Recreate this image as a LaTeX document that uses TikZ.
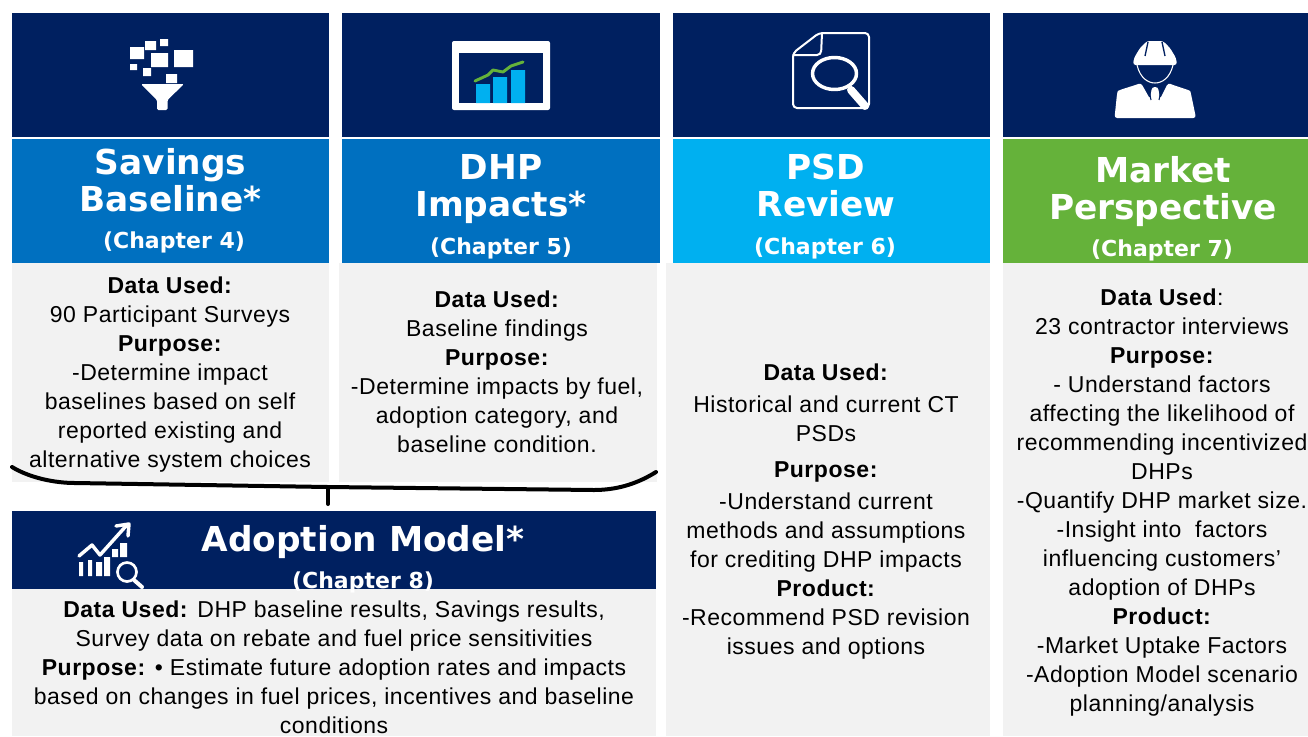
\documentclass[tikz,border=0pt]{standalone}
\usepackage{fontspec}
\usepackage{xcolor}
\usepackage{tikz}
\usetikzlibrary{positioning,calc}
\setmainfont[LetterSpace=2.3]{Liberation Sans}
\newfontfamily\titlefont{DejaVu Sans}
\definecolor{headnavy}{HTML}{002060}
\definecolor{bandblue}{HTML}{0070C0}
\definecolor{bandcyan}{HTML}{00B0F0}
\definecolor{bandgreen}{HTML}{65B23A}
\definecolor{panelgray}{HTML}{F2F2F2}

\begin{document}
\begin{tikzpicture}[
    x=0.75pt, y=-0.75pt,
    head/.style={rectangle, fill=headnavy, inner sep=0pt, minimum width=237.75pt, minimum height=93pt},
    band/.style={rectangle, fill=#1, inner sep=0pt, minimum width=237.75pt, minimum height=93pt},
    panel/.style={rectangle, fill=panelgray, inner sep=0pt},
    title/.style={text=white, align=center, inner sep=0pt, font=\titlefont\fontsize{25.75}{27.75}\selectfont\bfseries},
    chapter/.style={text=white, inner sep=0pt, font=\titlefont\fontsize{16.5}{18}\selectfont\bfseries},
    body/.style={align=center, inner sep=0pt, text=black, font=\fontsize{17.25}{21.75}\selectfont},
    brace/.style={line width=3pt, line cap=round, black},
    iconline/.style={white, line join=round, line cap=round}
]
\useasboundingbox (0,0) rectangle (1308,736);

% Grey panels
\node[panel, minimum width=237.75pt, minimum height=164.25pt] (basepanel) at (170.5,372.5) {};
\node[panel, minimum width=238.5pt, minimum height=164.25pt] (impactpanel) at (498,372.5) {};
\node[panel, minimum width=243pt, minimum height=354.75pt] (psdpanel) at (828,499.5) {};
\node[panel, minimum width=228.75pt, minimum height=354.75pt] (marketpanel) at (1155.5,499.5) {};
\node[panel, minimum width=483pt, minimum height=110.25pt] (modelpanel) at (334,662.5) {};

% Icon row
\node[head] (basehead) at (170.5,75) {};
\node[head, minimum width=238.5pt] (impacthead) at (501,75) {};
\node[head] (psdhead) at (831.5,75) {};
\node[head, minimum width=228.75pt] (markethead) at (1155.5,75) {};

% Title row
\node[band=bandblue] (baseband) at (170.5,201) {};
\node[band=bandblue, minimum width=238.5pt] (impactband) at (501,201) {};
\node[band=bandcyan] (psdband) at (831.5,201) {};
\node[band=bandgreen, minimum width=228.75pt] (marketband) at (1155.5,201) {};
\node[title] (basetitle) at (170.5,180.5) {Savings\\Baseline*};
\node[title] (impacttitle) at (501,189.5) {DHP\\Impacts*};
\node[title] (psdtitle) at (826,185.5) {PSD\\Review};
\node[title] (markettitle) at (1163,191.5) {Market\\Perspective};
\node[chapter] (basechap) at (174,242) {(Chapter 4)};
\node[chapter] (impactchap) at (501,248) {(Chapter 5)};
\node[chapter] (psdchap) at (825,248) {(Chapter 6)};
\node[chapter] (marketchap) at (1162,250) {(Chapter 7)};

% Panel text
\node[body] (basetext) at (170,375) {\textbf{Data Used:}\\90 Participant Surveys\\\textbf{Purpose:}\\-Determine impact\\baselines based on self\\reported existing and\\alternative system choices};
\node[body] (impacttext) at (497,372) {\textbf{Data Used:}\\Baseline findings\\\textbf{Purpose:}\\-Determine impacts by fuel,\\adoption category, and\\baseline condition.};
\node[body] (psdtext) at (826,511.5) {\textbf{Data Used:}\\[2.25pt]Historical and current CT\\PSDs\\[5.25pt]\textbf{Purpose:}\\[2.25pt]-Understand current\\methods and assumptions\\for crediting DHP impacts\\\textbf{Product:}\\-Recommend PSD revision\\issues and options};
\node[body] (markettext) at (1162,502.5) {\textbf{Data Used}:\\23 contractor interviews\\\textbf{Purpose:}\\- Understand factors\\affecting the likelihood of\\recommending incentivized\\DHPs\\-Quantify DHP market size.\\-Insight into\ \ factors\\influencing customers'\\adoption of DHPs\\\textbf{Product:}\\-Market Uptake Factors\\-Adoption Model scenario\\planning/analysis};

% Adoption model
\node[rectangle, fill=headnavy, inner sep=0pt, minimum width=483pt, minimum height=58.5pt] (modelhead) at (334,550) {};
\node[title] (modeltitle) at (363,542) {Adoption Model*};
\node[chapter] (modelchap) at (363,582) {(Chapter 8)};
\node[body] (modeltext) at (334,667) {\textbf{Data Used:} DHP baseline results, Savings results,\\Survey data on rebate and fuel price sensitivities\\\textbf{Purpose:} • Estimate future adoption rates and impacts\\based on changes in fuel prices, incentives and baseline\\conditions};

% Brace
\coordinate (braceleft) at (12,467);
\coordinate (bracemid) at (328,487);
\coordinate (braceright) at (656,472);
\coordinate (stemend) at (328,504);
\draw[brace] (braceleft) .. controls (30,478) and (55,483) .. (75,483) -- (bracemid) -- (594,490) .. controls (620,490) and (640,482) .. (braceright);
\draw[brace] (bracemid) -- (stemend);

% Funnel icon
\fill[white] (130,47) rectangle (144,59) (145,41) rectangle (156,50) (160,39) rectangle (168,46);
\fill[white] (151,53) rectangle (168,67) (174,50) rectangle (193,67) (130,64) rectangle (137,70);
\fill[white] (143,68) rectangle (151,76) (166,74) rectangle (177,83);
\fill[white, rounded corners=1pt] (141,84) -- (184,84) -- (167.5,100) -- (167.5,110) -- (157,110) -- (157,100) -- cycle;

% Monitor icon
\fill[white, rounded corners=1.5pt] (452,41) rectangle (550,110);
\fill[headnavy] (459,53) rectangle (543,103);
\fill[bandcyan] (476,84) rectangle (490,103) (493,77) rectangle (507,103) (511,70) rectangle (525,103);
\draw[bandgreen, line width=2.2pt, line cap=round, line join=round] (475,81) -- (488,75) -- (493,70) -- (503,72) -- (511,66) -- (523,62);

% Document icon
\draw[iconline, line width=1.5pt, rounded corners=3pt] (793,53) -- (819,33) -- (869,33) -- (869,108) -- (793,108) -- cycle;
\draw[iconline, line width=1.5pt, rounded corners=3pt] (822,33) -- (821,55) -- (793,55);
\draw[iconline, line width=2.6pt] (834.5,73.5) ellipse (22 and 16);
\draw[iconline, line width=6pt] (851,90) -- (865,106);

% Worker icon
\fill[white, rounded corners=2pt] (1133,65) -- (1134,58) -- (1140,48) -- (1147,41) -- (1163,41) -- (1170,48) -- (1176,58) -- (1177,65) -- cycle;
\draw[headnavy, line width=1pt] (1148,42) -- (1145,56) (1162,42) -- (1165,56);
\draw[iconline, line width=0.8pt] (1137,65) .. controls (1140,78) and (1148,83) .. (1155,83) .. controls (1162,83) and (1170,78) .. (1173,65);
\fill[white, rounded corners=2pt] (1114.5,118) -- (1117,94) .. controls (1118,90) and (1130,87) .. (1141,83) -- (1150,99) -- (1152,87) -- (1158,87) -- (1160,99) -- (1168,83) .. controls (1178,87) and (1190,90) .. (1191,94) -- (1196,118) -- cycle;
\draw[headnavy, line width=0.8pt] (1148,86) -- (1151,100) (1162,86) -- (1159,100);

% Trend icon
\draw[iconline, line width=2.6pt] (79,556) -- (92,545) -- (100,555) -- (126,526);
\draw[iconline, line width=2.6pt] (116,526) -- (129,524) -- (128,536);
\fill[white] (79,562) rectangle (83,576) (88,560) rectangle (92,576) (96,562) rectangle (102,576);
\fill[white] (104,557) rectangle (110,576) (112,549) rectangle (118,557) (120,543) rectangle (127,557);
\draw[iconline, line width=2pt] (127,572) circle (9.5);
\draw[iconline, line width=3pt] (134,580) -- (142,587);
\end{tikzpicture}
\end{document}
